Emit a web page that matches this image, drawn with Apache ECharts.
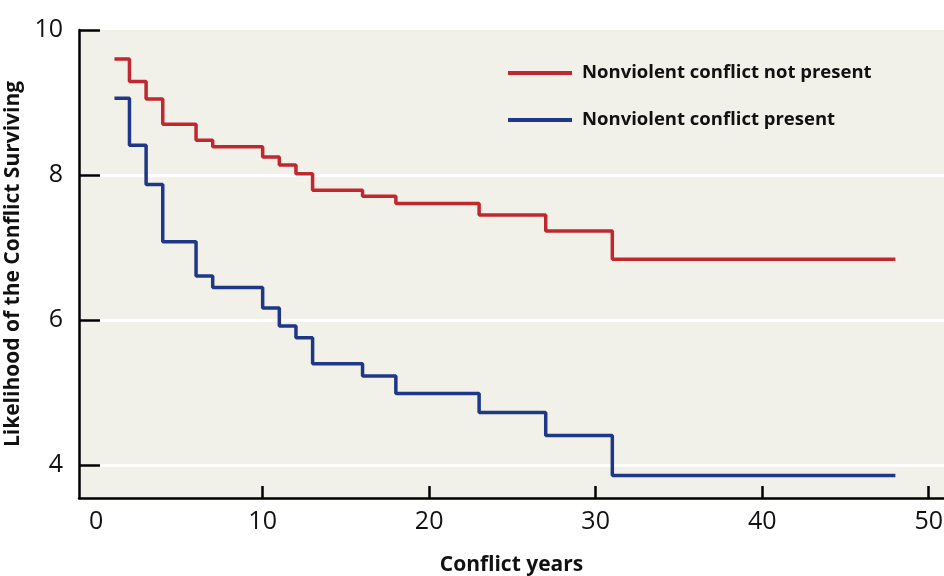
<!DOCTYPE html>
<html>
<head>
<meta charset="utf-8">
<script src="https://cdn.jsdelivr.net/npm/echarts@6/dist/echarts.min.js"></script>
<style>
  html, body { margin: 0; padding: 0; background: #ffffff; }
  #chart { width: 944px; height: 576px; }
</style>
</head>
<body>
<div id="chart"></div>
<script>
// Data
const conflictYears = [1.1, 2, 3, 4, 6, 7, 10, 11, 12, 13, 16, 18, 23, 27, 31, 48];
const notPresent    = [9.60, 9.29, 9.05, 8.70, 8.48, 8.39, 8.25, 8.14, 8.02, 7.79, 7.71, 7.61, 7.45, 7.23, 6.84, 6.84];
const present       = [9.06, 8.41, 7.87, 7.08, 6.61, 6.45, 6.17, 5.92, 5.76, 5.40, 5.23, 4.99, 4.73, 4.41, 3.86, 3.86];
const seriesNames   = ['Nonviolent conflict not present', 'Nonviolent conflict present'];
const yTickValues   = [4, 6, 8, 10];
const yGridValues   = [4, 6, 8];
const xLabelValues  = [0, 10, 20, 30, 40, 50];
const xTickValues   = [10, 20, 30, 40, 50];

const FONT = '"Open Sans", "Noto Sans", sans-serif';
const RED = '#c0282f';
const BLUE = '#1e3786';

function pairs(xs, ys) { return xs.map((x, i) => [x, ys[i]]); }

const chart = echarts.init(document.getElementById('chart'), null, { renderer: 'canvas' });
chart.setOption({
  animation: false,
  backgroundColor: '#ffffff',
  grid: {
    left: 79, right: 0, top: 30, bottom: 78,
    containLabel: false, outerBoundsMode: 'none',
    show: true, backgroundColor: '#f2f1e9', borderWidth: 0
  },
  legend: {
    orient: 'vertical',
    left: 508, top: 62, padding: 0,
    itemWidth: 64, itemHeight: 4, itemGap: 25,
    icon: 'rect',
    textStyle: { fontFamily: FONT, fontSize: 18.5, fontWeight: 'bold', color: '#111', lineHeight: 22, padding: [0, 0, 0, 5] },
    data: seriesNames
  },
  xAxis: {
    type: 'value', min: -1.03, max: 50.92, z: 6,
    name: 'Conflict years', nameLocation: 'middle', nameGap: 57,
    nameTextStyle: { fontFamily: FONT, fontSize: 21, fontWeight: 'bold', color: '#111' },
    axisLine: { show: true, onZero: false, lineStyle: { color: '#000', width: 2.5 } },
    axisTick: { show: true, inside: true, length: 12, customValues: xTickValues, lineStyle: { color: '#000', width: 2.5 } },
    axisLabel: { customValues: xLabelValues, margin: 11, fontFamily: FONT, fontSize: 25, fontWeight: 500, color: '#111' },
    splitLine: { show: false }
  },
  yAxis: {
    type: 'value', min: 3.55, max: 10, z: 6,
    name: 'Likelihood of the Conflict Surviving', nameLocation: 'middle', nameGap: 45,
    nameTextStyle: { fontFamily: FONT, fontSize: 21, fontWeight: 'bold', color: '#111' },
    axisLine: { show: true, onZero: false, lineStyle: { color: '#000', width: 2.5 } },
    axisTick: { show: true, inside: true, length: 21, customValues: yTickValues, lineStyle: { color: '#000', width: 2.5 } },
    axisLabel: { customValues: yTickValues, margin: 16, fontFamily: FONT, fontSize: 25, color: '#111' },
    splitLine: { show: false }
  },
  series: [
    {
      name: seriesNames[0], type: 'line', step: 'end', z: 3,
      showSymbol: false, symbol: 'none',
      color: RED,
      lineStyle: { color: RED, width: 3.5, cap: 'butt' },
      data: pairs(conflictYears, notPresent),
      markLine: {
        z: 1, silent: true, symbol: 'none', label: { show: false },
        lineStyle: { color: '#ffffff', width: 3, type: 'solid' },
        emphasis: { disabled: true },
        data: yGridValues.map(v => ({ yAxis: v }))
      }
    },
    {
      name: seriesNames[1], type: 'line', step: 'end', z: 3,
      showSymbol: false, symbol: 'none',
      color: BLUE,
      lineStyle: { color: BLUE, width: 3.5, cap: 'butt' },
      data: pairs(conflictYears, present)
    }
  ]
});
</script>
</body>
</html>
